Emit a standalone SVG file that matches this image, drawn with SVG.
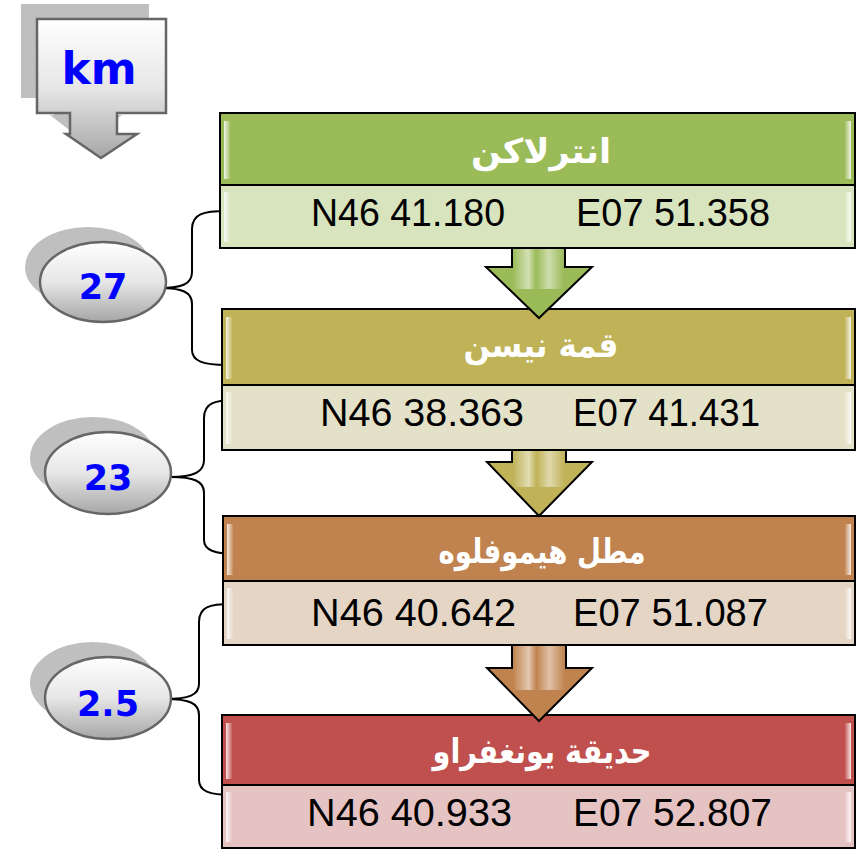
<svg xmlns="http://www.w3.org/2000/svg" width="857" height="851" viewBox="0 0 857 851">
<defs>
<linearGradient id="gGray" x1="0" y1="0" x2="0" y2="1">
<stop offset="0" stop-color="#FFFFFF"/>
<stop offset="0.5" stop-color="#E6E6E6"/>
<stop offset="1" stop-color="#A6A6A6"/>
</linearGradient>
<linearGradient id="gStrip" x1="0" y1="0" x2="1" y2="0">
<stop offset="0" stop-color="#FFFFFF" stop-opacity="0.85"/>
<stop offset="1" stop-color="#FFFFFF" stop-opacity="0.1"/>
</linearGradient>
<linearGradient id="gStripR" x1="1" y1="0" x2="0" y2="0">
<stop offset="0" stop-color="#FFFFFF" stop-opacity="0.85"/>
<stop offset="1" stop-color="#FFFFFF" stop-opacity="0.1"/>
</linearGradient>
<linearGradient id="gShaft" x1="0" y1="0" x2="1" y2="0">
<stop offset="0" stop-color="#FFFFFF" stop-opacity="0"/>
<stop offset="0.3" stop-color="#FFFFFF" stop-opacity="0.55"/>
<stop offset="0.45" stop-color="#FFFFFF" stop-opacity="0"/>
<stop offset="0.7" stop-color="#FFFFFF" stop-opacity="0.5"/>
<stop offset="1" stop-color="#FFFFFF" stop-opacity="0"/>
</linearGradient>
</defs>
<style>
.box{stroke:#000;stroke-width:2}
.hdr{font-family:"DejaVu Sans",sans-serif;font-weight:bold;font-size:34px;fill:#FFFFFF;text-anchor:middle}
.crd{font-family:"Liberation Sans","DejaVu Sans",sans-serif;font-size:39px;fill:#000}
.ell{fill:url(#gGray);stroke:#666666;stroke-width:2.5}
.shd{fill:#BFBFBF}
.num{font-family:"DejaVu Sans",sans-serif;font-weight:bold;font-size:35px;fill:#0000FF;text-anchor:middle}
.arr{stroke:#000;stroke-width:2;stroke-linejoin:miter}
.con{fill:none;stroke:#000;stroke-width:2}
.strip{fill:url(#gStrip)}
.stripR{fill:url(#gStripR)}
</style>

<g id="km">
<path class="shd" d="M21,4 H149 V98 H101 V115 H122 L86,143 L50,115 H54 V98 H21 Z"/>
<path d="M37,19 H166 V113 H117 V134 H137 L101,158 L66,134 H70 V113 H37 Z" fill="url(#gGray)" stroke="#666666" stroke-width="2.5"/>
<text x="99" y="84" font-family="DejaVu Sans,sans-serif" font-weight="bold" font-size="44" fill="#0000FF" text-anchor="middle">km</text>
</g>

<g id="connectors">
<path class="con" d="M227,211 C203,211 192,214 192,229 V272 C192,284 182,288 160,288 C182,288 192,292 192,304 V350 C192,361 203,365 227,365"/>
<path class="con" d="M238,400 C214,400 204,403 204,418 V460 C204,472 194,477 170,477 C194,477 204,481 204,493 V540 C204,550 214,554 238,554"/>
<path class="con" d="M232,604 C209,604 199,607 199,622 V684 C199,695 189,699 165,699 C189,699 199,703 199,715 V780 C199,791 209,795 232,795"/>
</g>

<g id="dist1">
<ellipse class="shd" cx="88" cy="267" rx="63" ry="40"/>
<ellipse class="ell" cx="103" cy="282" rx="63" ry="40"/>
<text class="num" x="103" y="299">27</text>
</g>
<g id="dist2">
<ellipse class="shd" cx="93" cy="458" rx="63" ry="41"/>
<ellipse class="ell" cx="108" cy="473" rx="63" ry="41"/>
<text class="num" x="108" y="490">23</text>
</g>
<g id="dist3">
<ellipse class="shd" cx="93" cy="683" rx="63" ry="41"/>
<ellipse class="ell" cx="108" cy="698" rx="63" ry="41"/>
<text class="num" x="108" y="716">2.5</text>
</g>

<g id="node1">
<rect class="box" x="220" y="113" width="635" height="72" fill="#9BBB59"/>
<rect class="strip" x="224" y="121" width="6" height="58"/>
<rect class="stripR" x="845" y="121" width="6" height="58"/>
<text class="hdr" x="541" y="163" textLength="140" lengthAdjust="spacingAndGlyphs">انترلاكن</text>
<rect class="box" x="220" y="185" width="635" height="63" fill="#D7E4BD"/>
<rect class="strip" x="224" y="192" width="6" height="50"/>
<rect class="stripR" x="845" y="192" width="6" height="50"/>
<text class="crd" x="311" y="226" textLength="194" lengthAdjust="spacingAndGlyphs">N46 41.180</text>
<text class="crd" x="576" y="226" textLength="194" lengthAdjust="spacingAndGlyphs">E07 51.358</text>
</g>

<g id="node2">
<rect class="box" x="222" y="309" width="633" height="76" fill="#BFB257"/>
<rect class="strip" x="226" y="317" width="6" height="62"/>
<rect class="stripR" x="845" y="317" width="6" height="62"/>
<text class="hdr" x="541" y="357" textLength="155" lengthAdjust="spacingAndGlyphs">قمة نيسن</text>
<rect class="box" x="222" y="385" width="633" height="65" fill="#E3E1C8"/>
<rect class="strip" x="226" y="392" width="6" height="52"/>
<rect class="stripR" x="845" y="392" width="6" height="52"/>
<text class="crd" x="320" y="426" textLength="204" lengthAdjust="spacingAndGlyphs">N46 38.363</text>
<text class="crd" x="573" y="426" textLength="187" lengthAdjust="spacingAndGlyphs">E07 41.431</text>
</g>

<g id="node3">
<rect class="box" x="223" y="516" width="632" height="65" fill="#C0834F"/>
<rect class="strip" x="227" y="524" width="6" height="51"/>
<rect class="stripR" x="845" y="524" width="6" height="51"/>
<text class="hdr" x="542" y="563" textLength="207" lengthAdjust="spacingAndGlyphs">مطل هيموفلوه</text>
<rect class="box" x="223" y="581" width="632" height="64" fill="#E5D5C5"/>
<rect class="strip" x="227" y="588" width="6" height="51"/>
<rect class="stripR" x="845" y="588" width="6" height="51"/>
<text class="crd" x="311" y="626" textLength="205" lengthAdjust="spacingAndGlyphs">N46 40.642</text>
<text class="crd" x="573" y="626" textLength="195" lengthAdjust="spacingAndGlyphs">E07 51.087</text>
</g>

<g id="node4">
<rect class="box" x="222" y="715" width="633" height="70" fill="#C0504D"/>
<rect class="strip" x="226" y="723" width="6" height="56"/>
<rect class="stripR" x="845" y="723" width="6" height="56"/>
<text class="hdr" x="542" y="763" textLength="219" lengthAdjust="spacingAndGlyphs">حديقة يونغفراو</text>
<rect class="box" x="222" y="785" width="633" height="63" fill="#E6C3C3"/>
<rect class="strip" x="226" y="792" width="6" height="50"/>
<rect class="stripR" x="845" y="792" width="6" height="50"/>
<text class="crd" x="307" y="826" textLength="205" lengthAdjust="spacingAndGlyphs">N46 40.933</text>
<text class="crd" x="573" y="826" textLength="199" lengthAdjust="spacingAndGlyphs">E07 52.807</text>
</g>

<g id="arrows">
<path class="arr" fill="#9BBB59" d="M512,248 V267 H486 L539,318 L592,267 H565 V248 Z"/>
<rect x="513" y="249" width="51" height="40" fill="url(#gShaft)"/>
<path class="arr" fill="#BFB257" d="M512,450 V462 H487 L539,516 L592,462 H566 V450 Z"/>
<rect x="513" y="451" width="52" height="36" fill="url(#gShaft)"/>
<path class="arr" fill="#C0834F" d="M512,645 V668 H487 L539,721 L592,668 H566 V645 Z"/>
<rect x="513" y="646" width="52" height="44" fill="url(#gShaft)"/>
</g>
</svg>
